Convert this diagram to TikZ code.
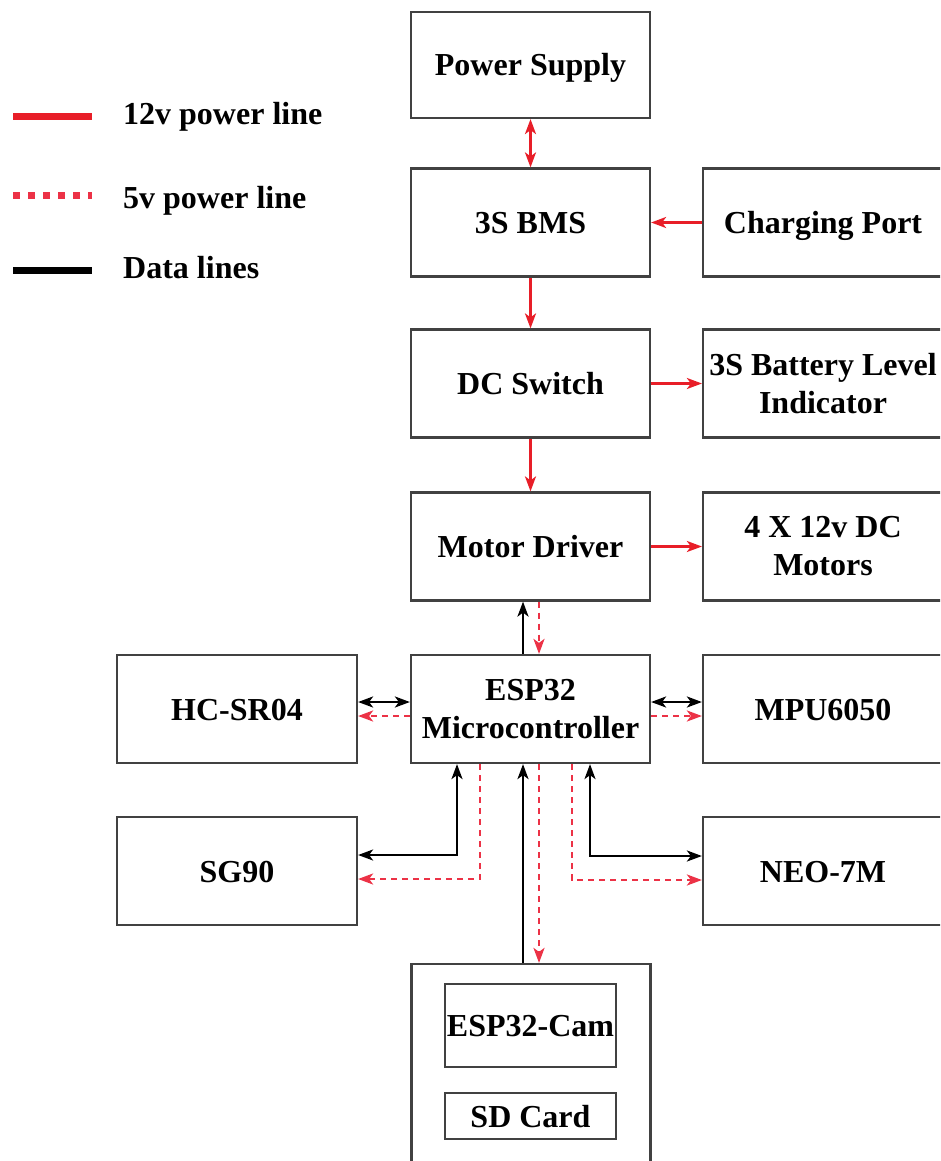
\documentclass[tikz,border=0pt]{standalone}
\usepackage{fontspec}
\setmainfont{Liberation Serif}
\usetikzlibrary{arrows.meta}
\definecolor{pwr}{RGB}{232,30,40}
\definecolor{dpwr}{RGB}{236,50,70}
\definecolor{frame}{RGB}{65,65,65}
\begin{document}
\begin{tikzpicture}[x=1pt,y=-1pt,
  blk/.style={draw=frame,line width=2.2pt,fill=white,rectangle,align=center,
    minimum width=239pt,minimum height=108pt,inner sep=0pt,
    font=\bfseries\fontsize{32}{38}\selectfont},
  one/.style={text height=22pt,text depth=0pt},
  inblk/.style={blk,one,minimum width=171pt},
  legtxt/.style={anchor=base west,inner sep=0pt,font=\bfseries\fontsize{32}{38}\selectfont},
  p12/.style={draw=pwr,line width=2.4pt,arrows={-Stealth[length=15pt,width=11pt,inset=4pt]}},
  p12b/.style={draw=pwr,line width=2.4pt,arrows={Stealth[length=15pt,width=11pt,inset=4pt]-Stealth[length=15pt,width=11pt,inset=4pt]}},
  p5/.style={draw=dpwr,line width=2.4pt,dash pattern=on 6pt off 5pt,arrows={-Stealth[length=15pt,width=11pt,inset=4pt]}},
  dat/.style={draw=black,line width=2.4pt,arrows={-Stealth[length=15pt,width=11pt,inset=4pt]}},
  datb/.style={draw=black,line width=2.4pt,arrows={Stealth[length=15pt,width=11pt,inset=4pt]-Stealth[length=15pt,width=11pt,inset=4pt]}}
]
\useasboundingbox (0,0) rectangle (940,1161);
\clip (0,0) rectangle (940,1161);
\fill[white] (0,0) rectangle (940,1161);

% legend
\coordinate (l1a) at (13,117); \coordinate (l1b) at (92,117);
\coordinate (l2a) at (13,196); \coordinate (l2b) at (92,196);
\coordinate (l3a) at (13,270); \coordinate (l3b) at (92,270);
\draw[pwr,line width=7pt] (l1a) -- (l1b);
\draw[dpwr,line width=7pt,dash pattern=on 7pt off 8pt] (l2a) -- (l2b);
\draw[black,line width=7pt] (l3a) -- (l3b);
\node[legtxt] (t1) at (123,125) {12v power line};
\node[legtxt] (t2) at (123,208) {5v power line};
\node[legtxt] (t3) at (123,278) {Data lines};

% center column
\node[blk,one,minimum height=106pt] (ps) at (530.5,65) {Power Supply};
\node[blk,one] (bms) at (530.5,222.5) {3S BMS};
\node[blk,one] (dc) at (530.5,383.5) {DC Switch};
\node[blk,one] (md) at (530.5,546.5) {Motor Driver};
\node[blk] (esp) at (530.5,709) {ESP32\\Microcontroller};
\node[blk,minimum height=220pt] (cam) at (531,1074) {};
\node[inblk,minimum height=83pt] (ecam) at (530.5,1025.5) {ESP32-Cam};
\node[inblk,minimum height=46pt] (sd) at (530.5,1116) {SD Card};

% right column
\node[blk,one,minimum width=240pt] (chg) at (823,222.5) {Charging Port};
\node[blk,minimum width=240pt] (bat) at (823,383.5) {3S Battery Level\\Indicator};
\node[blk,minimum width=240pt] (mot) at (823,546.5) {4 X 12v DC\\Motors};
\node[blk,one,minimum width=240pt] (mpu) at (823,709) {MPU6050};
\node[blk,one,minimum width=240pt] (neo) at (823,871) {NEO-7M};

% left column
\node[blk,one,minimum width=240pt] (hc) at (237,709) {HC-SR04};
\node[blk,one,minimum width=240pt] (sg) at (237,871) {SG90};

% 12v power lines
\draw[p12b] (ps.south) -- (bms.north);
\draw[p12] (chg.west) -- (bms.east);
\draw[p12] (bms.south) -- (dc.north);
\draw[p12] (dc.east) -- (bat.west);
\draw[p12] (dc.south) -- (md.north);
\draw[p12] (md.east) -- (mot.west);

% ESP32 <-> Motor driver
\draw[dat] ([xshift=-7.5pt]esp.north) -- ([xshift=-7.5pt]md.south);
\draw[p5] ([xshift=8.5pt]md.south) -- ([xshift=8.5pt]esp.north);

% ESP32 <-> HC-SR04 / MPU6050
\draw[datb] ([yshift=7pt]esp.west) -- ([yshift=7pt]hc.east);
\draw[p5] ([yshift=-7pt]esp.west) -- ([yshift=-7pt]hc.east);
\draw[datb] ([yshift=7pt]esp.east) -- ([yshift=7pt]mpu.west);
\draw[p5] ([yshift=-7pt]esp.east) -- ([yshift=-7pt]mpu.west);

% ESP32 <-> SG90
\draw[datb] ([xshift=-73.5pt]esp.south) |- ([yshift=16pt]sg.east);
\draw[p5] ([xshift=-50.5pt]esp.south) |- ([yshift=-8pt]sg.east);

% ESP32 <-> NEO-7M
\draw[datb] ([xshift=59.5pt]esp.south) |- ([yshift=15pt]neo.west);
\draw[p5] ([xshift=41.5pt]esp.south) |- ([yshift=-9pt]neo.west);

% ESP32 <-> ESP32-Cam
\draw[dat] ([xshift=-8pt]cam.north) -- ([xshift=-7.5pt]esp.south);
\draw[p5] ([xshift=8.5pt]esp.south) -- ([xshift=8pt]cam.north);
\end{tikzpicture}
\end{document}
